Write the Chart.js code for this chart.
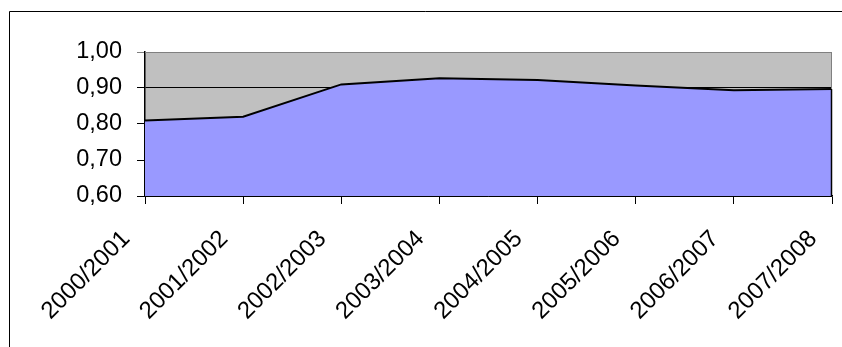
<!DOCTYPE html>
<html>
<head>
<meta charset="utf-8">
<script src="https://cdn.jsdelivr.net/npm/chart.js@4/dist/chart.umd.min.js"></script>
<style>
  html, body { margin: 0; padding: 0; background: #fff; }
  #wrap { position: relative; width: 842px; height: 347px; }
</style>
</head>
<body>
<div id="wrap"><canvas id="chart" width="842" height="347"></canvas></div>
<script>
// Data
const seasons = ['2000/2001', '2001/2002', '2002/2003', '2003/2004',
                 '2004/2005', '2005/2006', '2006/2007', '2007/2008'];
const ratio = [0.81, 0.82, 0.91, 0.927, 0.922, 0.907, 0.894, 0.897];
const yTicks = [0.60, 0.70, 0.80, 0.90, 1.00];

const FONT = '"Liberation Sans", Arial, sans-serif';

// Frame round the whole chart + grey plot background
const framePlugin = {
    id: 'frame',
    beforeDraw(chart) {
        const { ctx, chartArea: a } = chart;
        ctx.save();
        ctx.fillStyle = '#fff';
        ctx.fillRect(0, 0, chart.width, chart.height);
        ctx.strokeStyle = '#000';
        ctx.lineWidth = 1;
        ctx.beginPath();
        ctx.moveTo(9.5, chart.height);
        ctx.lineTo(9.5, 11.5);
        ctx.lineTo(chart.width, 11.5);
        ctx.stroke();
        ctx.fillStyle = '#C0C0C0';
        ctx.fillRect(a.left, a.top, a.right - a.left, a.bottom - a.top);
        ctx.restore();
    },
    afterDatasetsDraw(chart) {
        // plot border (grey) and black right edge of the area
        const { ctx, chartArea: a } = chart;
        const pts = chart.getDatasetMeta(0).data;
        const last = pts[pts.length - 1];
        ctx.save();
        ctx.strokeStyle = '#808080';
        ctx.lineWidth = 1;
        ctx.beginPath();
        ctx.moveTo(a.left, a.top + 0.5);
        ctx.lineTo(a.right - 0.5, a.top + 0.5);
        ctx.lineTo(a.right - 0.5, last.y);
        ctx.stroke();
        ctx.strokeStyle = '#000';
        ctx.lineWidth = 1.5;
        ctx.beginPath();
        ctx.moveTo(a.right - 0.5, last.y);
        ctx.lineTo(a.right - 0.5, a.bottom);
        ctx.stroke();
        ctx.restore();
    }
};

const chart = new Chart(document.getElementById('chart'), {
    type: 'line',
    data: {
        labels: seasons,
        datasets: [{
            data: ratio,
            borderColor: '#000',
            borderWidth: 2,
            backgroundColor: '#9999FF',
            fill: 'start',
            pointRadius: 0,
            tension: 0
        }]
    },
    options: {
        responsive: false,
        animation: false,
        layout: { padding: { top: 52, right: 10, left: 0, bottom: 0 } },
        plugins: { legend: { display: false }, tooltip: { enabled: false } },
        scales: {
            x: {
                offset: false,
                border: { display: true, color: '#000', width: 1.5 },
                grid: { drawOnChartArea: false, drawTicks: true, tickLength: 8, color: '#000' },
                ticks: {
                    minRotation: 45, maxRotation: 45, autoSkip: false,
                    color: '#000', padding: 2,
                    font: { family: FONT, size: 24 },
                    // trailing spaces push the rotated text back from the tick, like Excel
                    callback: (v, i) => seasons[i] + '    '
                },
                afterFit(scale) {
                    scale.height = 151;
                    scale.paddingLeft = 0;
                    scale.paddingRight = 0;
                }
            },
            y: {
                min: yTicks[0],
                max: yTicks[yTicks.length - 1],
                afterBuildTicks(scale) {
                    scale.ticks = yTicks.map(v => ({ value: v }));
                },
                border: { display: true, color: '#000', width: 1.5 },
                grid: {
                    tickLength: 8,
                    color: (c) => (c.tick && c.tick.value >= 1 ? '#808080' : '#000'),
                    lineWidth: 1
                },
                ticks: {
                    color: '#000', padding: 15,
                    font: { family: FONT, size: 23.5 },
                    callback: (v) => Number(v).toFixed(2).replace('.', ',')
                },
                afterFit(scale) {
                    scale.width = 145;
                    scale.paddingTop = 0;
                    scale.paddingBottom = 0;
                }
            }
        }
    },
    plugins: [framePlugin]
});
</script>
</body>
</html>
